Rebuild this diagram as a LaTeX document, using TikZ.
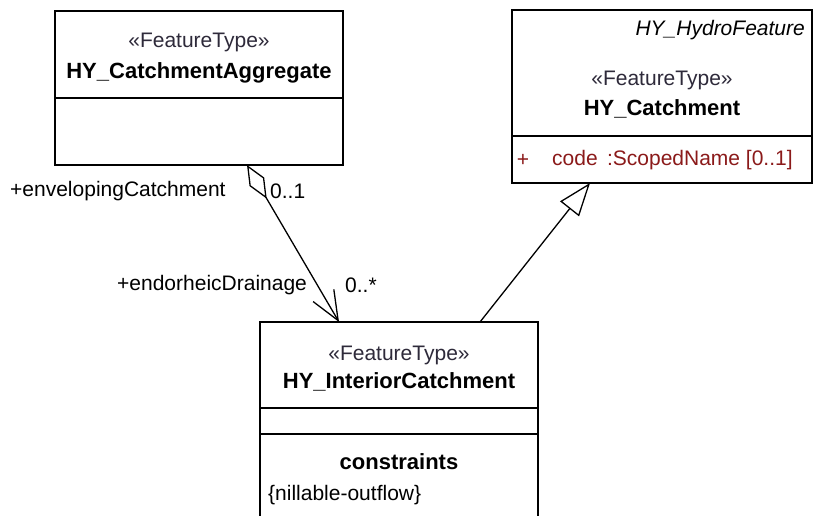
\documentclass[tikz,border=0pt]{standalone}
\usepackage{fontspec}
\setmainfont{Liberation Sans}
\usepackage{xcolor}
\usetikzlibrary{arrows.meta,positioning}
\definecolor{umlstereo}{HTML}{2E2A3A}
\definecolor{umlattr}{HTML}{8B1A1A}
\tikzset{
  compart/.style={draw,line width=1.4pt,fill=white,inner sep=0pt,outer sep=0pt,anchor=north west},
  stereo/.style={font=\fontsize{21}{25}\selectfont,text=umlstereo,inner sep=0pt},
  cname/.style={font=\fontsize{22}{26}\selectfont\bfseries,inner sep=0pt},
  plain/.style={font=\fontsize{21}{25}\selectfont,inner sep=0pt},
  assoc/.style={line width=1.3pt,{Diamond[open,length=39pt,width=17pt]}-{Straight Barb[length=29pt,width=24pt]}},
  generalize/.style={line width=1.3pt,-{Triangle[open,length=33pt,width=24pt]}}
}

\begin{document}
\begin{tikzpicture}[x=1pt,y=-1pt]
  \useasboundingbox (0,0) rectangle (816,516);
  % HY_CatchmentAggregate
  \node[compart,minimum width=288pt,minimum height=87pt] (agghead) at (55,11) {};
  \node[compart,minimum width=288pt,minimum height=67pt] (aggbody) at (agghead.south west) {};
  \node[stereo] (aggst) at (199,42) {«FeatureType»};
  \node[cname] (aggname) at (199,73) {HY\_CatchmentAggregate};
  % HY_Catchment
  \node[compart,minimum width=300pt,minimum height=126pt] (cathead) at (512,10) {};
  \node[compart,minimum width=300pt,minimum height=47pt] (catbody) at (cathead.south west) {};
  \node[plain,anchor=east,font=\fontsize{21}{25}\selectfont\itshape] (catsuper) at (805,30) {HY\_HydroFeature};
  \node[stereo] (catst) at (662,80) {«FeatureType»};
  \node[cname] (catname) at (662,109) {HY\_Catchment};
  \node[plain,text=umlattr] (catvis) at (523,160) {+};
  \node[plain,text=umlattr,anchor=west] (catattr) at (552,160) {code \,:ScopedName [0..1]};
  % HY_InteriorCatchment
  \node[compart,minimum width=278pt,minimum height=86pt] (inthead) at (260,322) {};
  \node[compart,minimum width=278pt,minimum height=26pt] (intattr) at (inthead.south west) {};
  \node[compart,minimum width=278pt,minimum height=100pt] (intcons) at (intattr.south west) {};
  \node[stereo] (intst) at (399,355) {«FeatureType»};
  \node[cname] (intname) at (399,382) {HY\_InteriorCatchment};
  \node[cname] (intconsttl) at (399,462) {constraints};
  \node[plain,anchor=west] (intconstxt) at (268,495) {\{nillable-outflow\}};
  % roles
  \node[plain,anchor=west] (rolenv) at (10,191) {+envelopingCatchment};
  \node[plain,anchor=west] (multenv) at (270,191) {0..1};
  \node[plain,anchor=west] (roleend) at (117,285) {+endorheicDrainage};
  \node[plain,anchor=west] (multend) at (345,285) {0..*};
  % connectors
  \draw[assoc] ([xshift=192pt]aggbody.south west) -- ([xshift=79pt]inthead.north west);
  \draw[generalize] ([xshift=220pt]inthead.north west) -- ([xshift=78pt]catbody.south west);
\end{tikzpicture}
\end{document}
